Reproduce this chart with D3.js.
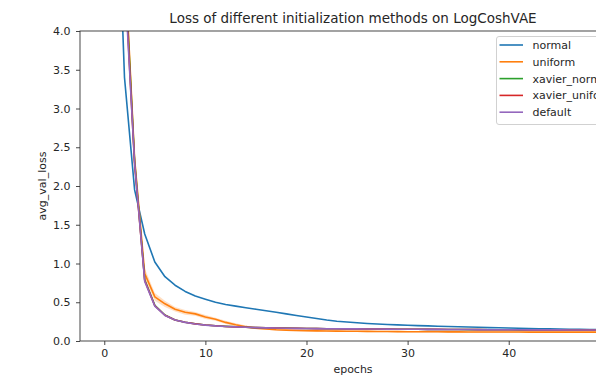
<!DOCTYPE html>
<html>
<head>
<meta charset="utf-8">
<script src="https://cdn.jsdelivr.net/npm/d3@7"></script>
<style>
  body { margin: 0; background: #fff; }
  svg { font-family: "DejaVu Sans", sans-serif; }
</style>
</head>
<body>
<svg id="chart" width="596" height="376"></svg>
<script>
// epochs 0..49
const epochs = d3.range(0, 50)

const normal = [22, 7.0, 3.4, 1.95, 1.38, 1.02, 0.83, 0.72, 0.64, 0.58, 0.54, 0.50, 0.47, 0.45, 0.43, 0.41, 0.39, 0.37, 0.35, 0.33,
  0.31, 0.29, 0.27, 0.255, 0.245, 0.235, 0.226, 0.219, 0.213, 0.208, 0.203, 0.199, 0.195, 0.191, 0.187, 0.183, 0.18, 0.177, 0.173, 0.17,
  0.167, 0.164, 0.161, 0.158, 0.156, 0.154, 0.152, 0.15, 0.148, 0.146]
const uniform = [25, 11, 5.0, 2.35, 0.87, 0.57, 0.48, 0.41, 0.37, 0.35, 0.31, 0.28, 0.24, 0.21, 0.185, 0.165, 0.155, 0.145, 0.14, 0.136,
  0.133, 0.131, 0.129, 0.127, 0.126, 0.125, 0.124, 0.123, 0.122, 0.121, 0.12, 0.12, 0.119, 0.119, 0.118, 0.118, 0.117, 0.117, 0.117, 0.116,
  0.116, 0.116, 0.115, 0.115, 0.115, 0.115, 0.114, 0.114, 0.114, 0.114]
const xavierNormal = [25, 10.5, 4.9, 2.32, 0.79, 0.46, 0.335, 0.272, 0.242, 0.222, 0.207, 0.196, 0.189, 0.183, 0.178, 0.173, 0.17, 0.168, 0.166, 0.164,
  0.162, 0.161, 0.159, 0.158, 0.157, 0.156, 0.155, 0.154, 0.153, 0.152, 0.151, 0.151, 0.15, 0.149, 0.149, 0.148, 0.147, 0.147, 0.146, 0.146,
  0.145, 0.144, 0.144, 0.143, 0.143, 0.142, 0.142, 0.141, 0.141, 0.14]
const xavierUniform = [24, 10.2, 4.8, 2.28, 0.78, 0.455, 0.332, 0.271, 0.241, 0.221, 0.206, 0.196, 0.188, 0.182, 0.177, 0.173, 0.17, 0.167, 0.165, 0.163,
  0.162, 0.16, 0.159, 0.158, 0.157, 0.156, 0.155, 0.154, 0.153, 0.152, 0.152, 0.151, 0.15, 0.15, 0.149, 0.148, 0.148, 0.147, 0.146, 0.146,
  0.145, 0.145, 0.144, 0.144, 0.143, 0.143, 0.142, 0.142, 0.141, 0.141]
const defaultInit = [24, 10, 4.7, 2.3, 0.77, 0.45, 0.33, 0.27, 0.24, 0.22, 0.205, 0.195, 0.188, 0.182, 0.177, 0.172, 0.169, 0.167, 0.165, 0.163,
  0.162, 0.16, 0.159, 0.158, 0.157, 0.156, 0.155, 0.154, 0.153, 0.152, 0.152, 0.151, 0.15, 0.15, 0.149, 0.148, 0.148, 0.147, 0.146, 0.146,
  0.145, 0.145, 0.144, 0.144, 0.143, 0.143, 0.142, 0.142, 0.141, 0.141]

// half width of the shaded band around uniform
const uniformSpread = [0.5, 0.4, 0.3, 0.12, 0.07, 0.05, 0.04, 0.03, 0.03, 0.025, 0.025, 0.02, 0.02, 0.02, 0.015, 0.012, 0.01, 0.01, 0.01, 0.01,
  0.01, 0.01, 0.01, 0.01, 0.01, 0.01, 0.01, 0.01, 0.01, 0.01, 0.01, 0.01, 0.01, 0.01, 0.01, 0.01, 0.01, 0.01, 0.01, 0.01,
  0.01, 0.01, 0.01, 0.01, 0.01, 0.01, 0.01, 0.01, 0.01, 0.01]

const seriesNames = ['normal', 'uniform', 'xavier_normal', 'xavier_uniform', 'default']
const seriesValues = [normal, uniform, xavierNormal, xavierUniform, defaultInit]
const colors = ['#1f77b4', '#ff7f0e', '#2ca02c', '#d62728', '#9467bd']
const yTicks = [0, 0.5, 1, 1.5, 2, 2.5, 3, 3.5, 4]
const xTicks = [0, 10, 20, 30, 40]

const svg = d3.select('#chart')
const pLeft = 80, pRight = 624, pTop = 31, pBottom = 341

const x = d3.scaleLinear().domain([-2.45, 51.45]).range([79.5, 624.5])
const y = d3.scaleLinear().domain([0, 4]).range([pBottom, pTop])

svg.append('defs').append('clipPath').attr('id', 'clip')
  .append('rect').attr('x', pLeft).attr('y', pTop).attr('width', pRight - pLeft).attr('height', pBottom - pTop)

const plot = svg.append('g').attr('clip-path', 'url(#clip)')

// band for uniform
const band = d3.area()
  .x((d, i) => x(epochs[i]))
  .y0((d, i) => y(uniform[i] - d))
  .y1((d, i) => y(uniform[i] + d))
plot.append('path').datum(uniformSpread)
  .attr('d', band).attr('fill', colors[1]).attr('opacity', 0.25)

const line = d3.line().x((d, i) => x(epochs[i])).y(d => y(d))
plot.selectAll('path.series').data(seriesValues).enter()
  .append('path').attr('class', 'series')
  .attr('d', line)
  .attr('fill', 'none')
  .attr('stroke', (d, i) => colors[i])
  .attr('stroke-width', 1.6)
  .attr('stroke-linejoin', 'round')

// axes
const xAxis = svg.append('g').attr('transform', `translate(0,${pBottom})`)
  .call(d3.axisBottom(x).tickValues(xTicks).tickFormat(d3.format('d')).tickSize(4).tickPadding(4.5))
const yAxis = svg.append('g').attr('transform', `translate(${pLeft},0)`)
  .call(d3.axisLeft(y).tickValues(yTicks).tickFormat(d3.format('.1f')).tickSize(4).tickPadding(5.5))
for (const ax of [xAxis, yAxis]) {
  ax.select('.domain').remove()
  ax.selectAll('line').attr('stroke', '#333').attr('stroke-width', 0.9)
  ax.selectAll('text').attr('font-size', 11).attr('fill', '#262626').attr('font-family', 'DejaVu Sans')
}

// spines
svg.append('rect').attr('x', pLeft).attr('y', pTop).attr('width', pRight - pLeft).attr('height', pBottom - pTop)
  .attr('fill', 'none').attr('stroke', '#333').attr('stroke-width', 0.9)

svg.append('text').attr('x', 353).attr('y', 23)
  .attr('text-anchor', 'middle').attr('font-size', 13.5).attr('fill', '#262626')
  .text('Loss of different initialization methods on LogCoshVAE')
svg.append('text').attr('x', 353).attr('y', 373)
  .attr('text-anchor', 'middle').attr('font-size', 11).attr('fill', '#262626')
  .text('epochs')
svg.append('text').attr('transform', `translate(46,${(pTop + pBottom) / 2}) rotate(-90)`)
  .attr('text-anchor', 'middle').attr('font-size', 11).attr('fill', '#262626')
  .text('avg_val_loss')

// legend
const legend = svg.append('g').attr('transform', 'translate(496.5,36.5)')
legend.append('rect').attr('width', 130).attr('height', 88).attr('rx', 2.5)
  .attr('fill', '#fff').attr('fill-opacity', 0.8).attr('stroke', '#ccc').attr('stroke-width', 0.9)
const items = legend.selectAll('g.item').data(seriesNames).enter()
  .append('g').attr('class', 'item')
  .attr('transform', (d, i) => `translate(0,${8.5 + i * 16.8})`)
items.append('line').attr('x1', 3).attr('x2', 26.5)
  .attr('stroke', (d, i) => colors[i]).attr('stroke-width', 1.6)
items.append('text').attr('x', 36).attr('y', 4)
  .attr('font-size', 11).attr('fill', '#262626').text(d => d)
</script>
</body>
</html>
